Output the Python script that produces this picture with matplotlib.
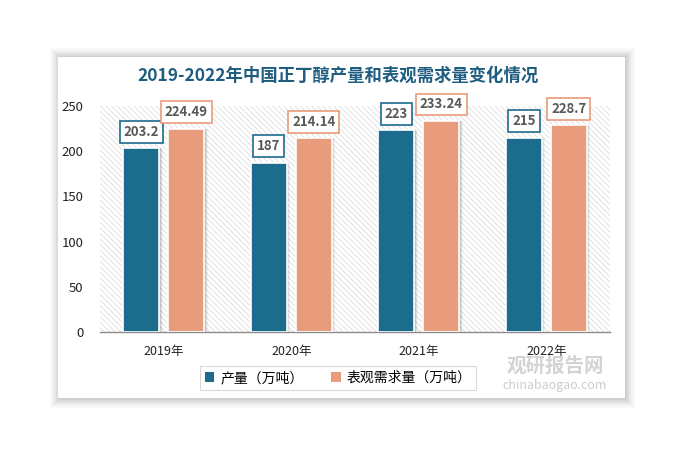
import matplotlib.pyplot as plt
from matplotlib.patches import Rectangle
import numpy as np

plt.rcParams['font.family'] = ['Noto Sans CJK SC', 'DejaVu Sans']
plt.rcParams['hatch.linewidth'] = 0.5
plt.rcParams['hatch.color'] = '#d6d6d6'

# 数据
years = ['2019年', '2020年', '2021年', '2022年']
output = [203.2, 187, 223, 215]
demand = [224.49, 214.14, 233.24, 228.7]
output_labels = ['203.2', '187', '223', '215']
demand_labels = ['224.49', '214.14', '233.24', '228.7']
series_names = ['产量（万吨）', '表观需求量（万吨）']

c_blue = '#1c6c8e'
c_orange = '#e89c7c'

fig = plt.figure(figsize=(6.83, 4.59), dpi=100)
fig.patch.set_facecolor('white')

# 卡片 + 阴影
W, H = 683, 459
def fx(px):
    return px / W
def fy(py):
    return 1 - py / H
for i, a in enumerate([0.05, 0.05, 0.04, 0.03, 0.02]):
    d = 2 + i * 2
    fig.patches.append(Rectangle((fx(58 - d + 2), fy(398 + d)), fx(567 + 2 * d - 2), (340 + 2 * d) / H,
                                 transform=fig.transFigure, facecolor='#000000', alpha=a,
                                 edgecolor='none', zorder=0))
fig.patches.append(Rectangle((fx(58), fy(398)), fx(567), 341 / H, transform=fig.transFigure,
                             facecolor='white', edgecolor='none', zorder=1))

ax = fig.add_axes([fx(100), fy(332), fx(510), (332 - 106) / H])
ax.set_facecolor('none')
ax.set_zorder(2)

# 斜线底纹
ax.add_patch(Rectangle((0, 0), 1, 1, transform=ax.transAxes, facecolor='white',
                       hatch='\\\\\\\\\\\\', edgecolor='#d6d6d6', linewidth=0, zorder=0))

x = np.arange(len(years))
w = 0.28
off = 0.176

for xs, vals, col, labs in [(x - off, output, c_blue, output_labels),
                            (x + off, demand, c_orange, demand_labels)]:
    # 阴影
    for k, a in enumerate([0.10, 0.07, 0.04]):
        ax.bar(xs + 0.012 + k * 0.008, vals, width=w, color='#000000', alpha=a,
               edgecolor='none', zorder=1)
    ax.bar(xs, vals, width=w, color=col, edgecolor='white', linewidth=1.2, zorder=3)
    for xi, v, lab in zip(xs, vals, labs):
        ax.annotate(lab, (xi, v), xytext=(0, 12), textcoords='offset points',
                    ha='center', va='center', fontsize=9.5, fontweight='bold',
                    color='#595959', zorder=5,
                    bbox=dict(boxstyle='square,pad=0.3', facecolor='white',
                              edgecolor=col, linewidth=1.2))

ax.set_xlim(-0.5, 3.5)
ax.set_ylim(0, 250)
ax.set_yticks([0, 50, 100, 150, 200, 250])
ax.set_xticks(x)
ax.set_xticklabels(years, fontsize=9, color='#222222')
ax.tick_params(axis='y', length=0, labelsize=9.5, labelcolor='#222222', pad=12)
ax.tick_params(axis='x', length=0, pad=9)
for s in ['top', 'right', 'left']:
    ax.spines[s].set_visible(False)
ax.spines['bottom'].set_color('#8c8c8c')
ax.spines['bottom'].set_linewidth(1)

fig.text(fx(338), fy(76), '2019-2022年中国正丁醇产量和表观需求量变化情况',
         ha='center', va='center', fontsize=12.5, fontweight='bold', color='#1f5d80', zorder=5)

# 图例
h1 = Rectangle((0, 0), 1, 1, facecolor=c_blue)
h2 = Rectangle((0, 0), 1, 1, facecolor=c_orange)
leg = fig.legend([h1, h2], series_names, loc='center', bbox_to_anchor=(fx(338), fy(378)),
                 ncol=2, fontsize=10, frameon=True, fancybox=False, handlelength=0.7,
                 handleheight=0.7, columnspacing=2.0, handletextpad=0.4, borderpad=0.35)
leg.get_frame().set_edgecolor('#d0d0d0')
leg.get_frame().set_linewidth(0.8)
leg.set_zorder(6)

# 水印
fig.text(fx(555), fy(366), '观研报告网', ha='center', va='center', fontsize=14,
         fontweight='bold', color='#c8c8c8', alpha=0.8, zorder=7)
fig.text(fx(555), fy(385), 'chinabaogao.com', ha='center', va='center', fontsize=9,
         color='#c0c0c0', alpha=0.8, zorder=7)

fig.savefig('out.png', dpi=100)
